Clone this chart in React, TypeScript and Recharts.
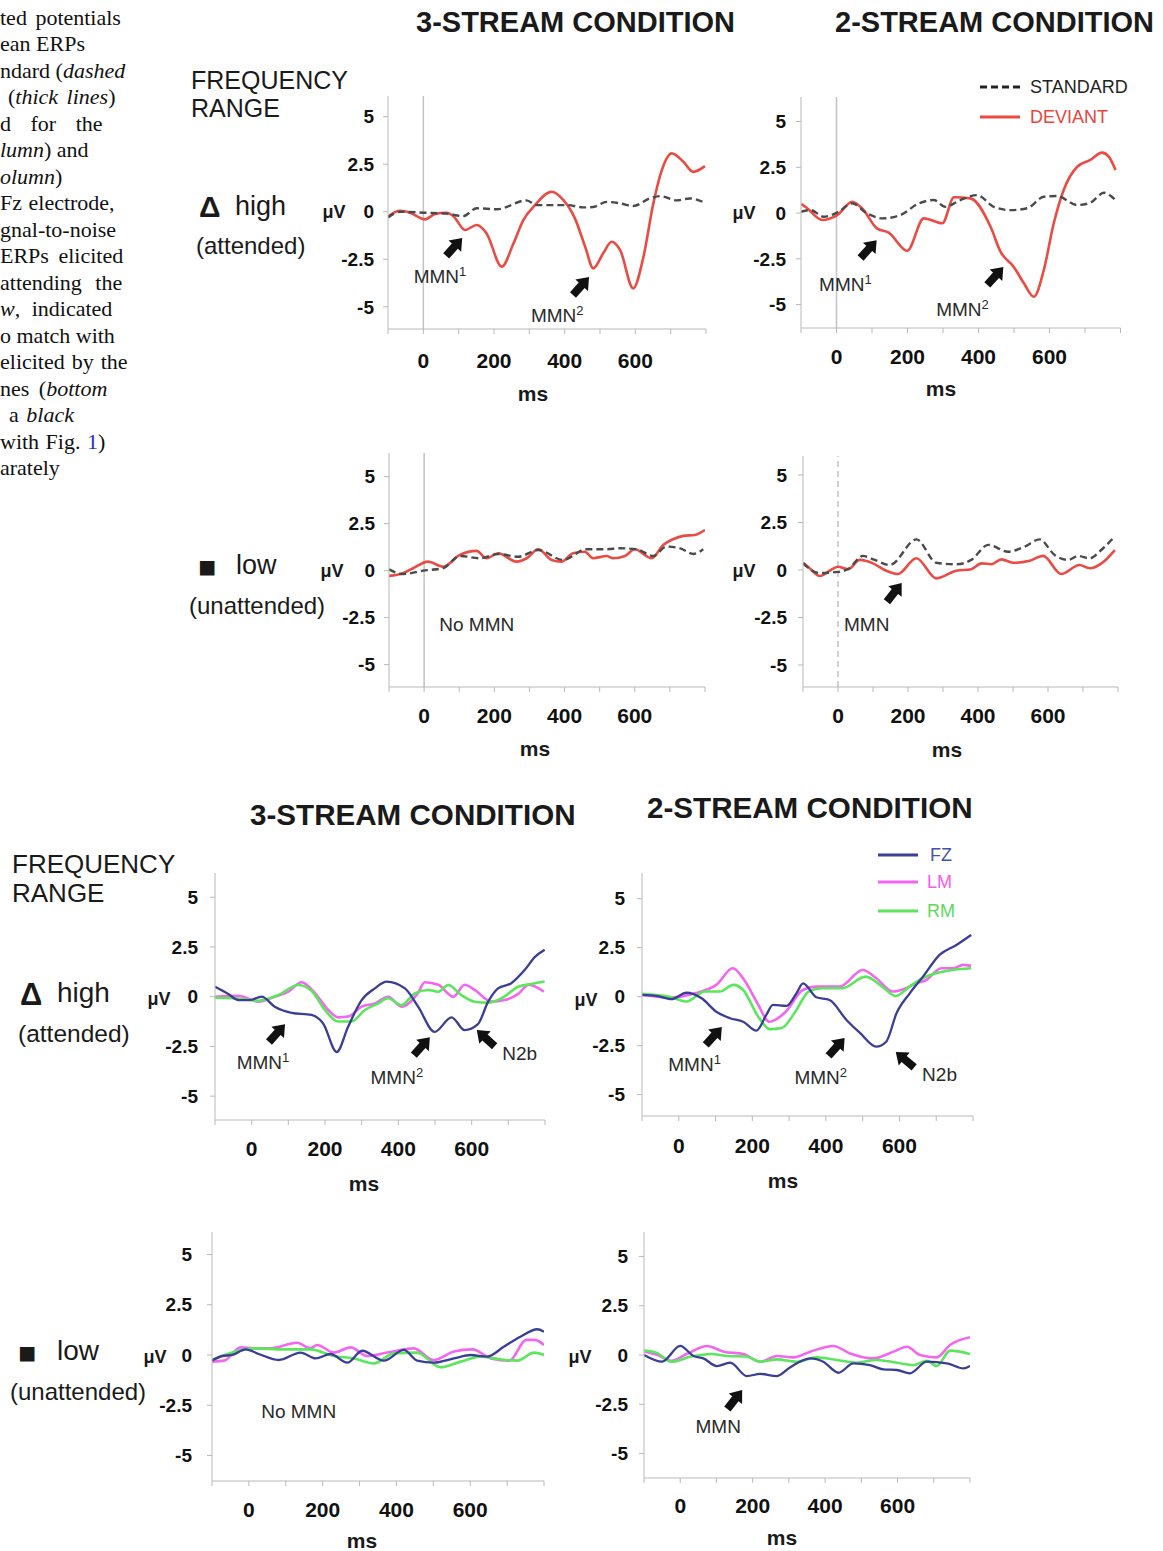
import React from 'react';
import { LineChart, Line, XAxis, YAxis, ReferenceLine, ReferenceDot } from 'recharts';

type Pt = [number, number];

// ---------- axes ----------
const TIME_TICKS = [-100, 0, 100, 200, 300, 400, 500, 600, 700, 800];
const TIME_LABELS = [0, 200, 400, 600];
const UV_TICKS = [-5, -2.5, 0, 2.5, 5];

// ---------- top figure: standard vs deviant (Fz) ----------
const high3Deviant: Pt[] = [[-100,-0.25],[-66,0.05],[-38,-0.05],[5,-0.4],[33,-0.12],[66,-0.05],[85,-0.23],[118,-0.96],[151,-0.7],[179,-1.14],[222,-2.89],[255,-1.67],[283,-0.44],[316,0.35],[363,1.05],[396,0.62],[429,-0.35],[458,-1.84],[481,-2.98],[509,-2.19],[533,-1.58],[557,-2.02],[594,-4.03],[623,-2.37],[651,0.44],[675,2.19],[703,3.07],[736,2.63],[764,2.1],[797,2.4]];
const high3Standard: Pt[] = [[-100,-0.3],[-66,0.0],[0,-0.05],[66,-0.1],[113,-0.23],[151,0.18],[208,0.13],[292,0.6],[321,0.35],[368,0.35],[406,0.35],[453,0.23],[481,0.25],[519,0.52],[557,0.44],[594,0.3],[641,0.7],[670,0.82],[717,0.6],[754,0.7],[797,0.47]];
const high2Deviant: Pt[] = [[-100,0.5],[-85,0.3],[-40,-0.38],[2,-0.11],[44,0.62],[72,0.26],[114,-0.84],[147,-1.07],[199,-2.06],[246,-0.29],[298,-0.56],[331,0.86],[377,0.8],[434,-0.75],[462,-2.11],[499,-2.93],[528,-3.84],[556,-4.57],[584,-3.11],[612,-0.56],[640,1.26],[678,2.53],[715,2.9],[748,3.3],[767,3.08],[786,2.35]];
const high2Standard: Pt[] = [[-100,0.07],[-73,0.16],[-36,-0.2],[6,0.07],[44,0.53],[86,-0.02],[129,-0.29],[180,-0.11],[232,0.53],[274,0.71],[307,0.34],[349,0.71],[396,0.98],[443,0.34],[490,0.16],[537,0.26],[584,0.89],[621,0.93],[678,0.44],[715,0.56],[753,1.11],[786,0.71]];
const low3Deviant: Pt[] = [[-100,-0.28],[-60,-0.14],[-31,0.13],[11,0.48],[54,0.21],[102,0.84],[149,1.05],[178,0.66],[211,0.93],[263,0.48],[292,0.66],[325,1.14],[363,0.57],[391,0.48],[424,0.93],[458,1.01],[481,0.66],[520,0.78],[538,0.66],[572,0.78],[600,1.14],[648,0.66],[681,1.37],[709,1.67],[738,1.85],[771,1.9],[800,2.16]];
const low3Standard: Pt[] = [[-100,0.07],[-60,-0.18],[-3,0.0],[54,0.13],[102,0.78],[160,0.66],[211,0.89],[268,0.74],[325,1.1],[396,0.57],[462,1.14],[520,1.14],[558,1.19],[605,1.14],[653,0.78],[690,1.28],[729,1.19],[767,0.89],[795,1.14]];
const low2Deviant: Pt[] = [[-100,0.38],[-81,0.09],[-52,-0.32],[-24,-0.04],[0,0.17],[29,0.04],[62,0.53],[100,0.35],[138,-0.04],[171,-0.21],[224,0.62],[281,-0.44],[338,-0.04],[381,0.04],[410,0.35],[438,0.3],[467,0.56],[500,0.38],[548,0.49],[586,0.74],[638,-0.21],[690,0.26],[719,0.09],[753,0.35],[791,1.05]];
const low2Standard: Pt[] = [[-100,0.35],[-52,-0.16],[0,-0.1],[29,0.05],[71,0.74],[105,0.53],[148,0.26],[224,1.61],[281,0.38],[338,0.3],[381,0.53],[429,1.32],[486,0.96],[533,1.23],[576,1.61],[619,0.79],[657,0.53],[686,0.74],[719,0.61],[752,1.05],[786,1.67]];

// ---------- bottom figure: electrodes Fz / LM / RM ----------
const high3Fz: Pt[] = [[-100,0.5],[-64,0.14],[-36,-0.17],[-5,-0.17],[27,0],[63,-0.5],[109,-0.81],[163,-0.92],[195,-1.35],[232,-2.78],[263,-1.51],[300,-0.17],[336,0.42],[368,0.76],[418,0.42],[454,-0.5],[499,-1.77],[545,-1.04],[581,-1.68],[617,-1.38],[645,-0.25],[672,0.42],[708,0.68],[745,1.35],[772,1.99],[799,2.36]];
const high3Lm: Pt[] = [[-100,0.0],[-36,0.05],[18,-0.25],[63,0],[100,0.25],[136,0.73],[173,0.17],[209,-0.67],[236,-1.04],[263,-1.0],[300,-0.5],[336,-0.34],[372,0.0],[409,-0.5],[454,0.2],[472,0.73],[509,0.6],[550,0.0],[581,0.6],[608,0.34],[654,-0.25],[690,-0.17],[727,0.14],[756,0.6],[797,0.25]];
const high3Rm: Pt[] = [[-100,-0.05],[-36,-0.09],[18,-0.2],[72,0.08],[127,0.59],[163,0.3],[200,-0.67],[236,-1.25],[272,-1.25],[309,-0.67],[345,-0.34],[372,-0.08],[409,-0.42],[445,0.17],[481,0.34],[509,0.25],[536,0.59],[572,0.08],[608,-0.25],[645,-0.3],[681,-0.08],[727,0.5],[763,0.64],[799,0.76]];
const high2Fz: Pt[] = [[-100,0.09],[-61,0.04],[-20,-0.13],[21,0.2],[62,-0.08],[102,-0.77],[139,-1.1],[175,-1.28],[211,-1.73],[238,-0.93],[256,-0.42],[293,-0.47],[320,0.17],[338,0.68],[374,-0.03],[410,-0.17],[456,-1.19],[492,-1.84],[537,-2.55],[564,-2.3],[592,-0.85],[628,0.17],[664,1.02],[709,2.13],[755,2.64],[795,3.15]];
const high2Lm: Pt[] = [[-100,0.09],[-20,-0.04],[44,0.17],[102,0.6],[147,1.45],[178,0.85],[214,-0.34],[246,-1.28],[291,-0.77],[337,0.34],[374,0.51],[437,0.51],[500,1.36],[537,0.94],[582,0.26],[618,0.43],[645,0.68],[673,0.85],[714,1.45],[746,1.45],[773,1.62],[795,1.57]];
const high2Rm: Pt[] = [[-100,0.14],[-20,-0.03],[21,-0.25],[71,0.26],[112,0.26],[148,0.6],[175,0.34],[216,-1.02],[248,-1.66],[280,-1.6],[317,-0.77],[353,0.26],[389,0.43],[444,0.43],[508,1.02],[553,0.51],[590,0.03],[627,0.51],[663,0.94],[699,1.19],[744,1.36],[795,1.45]];
const low3Fz: Pt[] = [[-100,-0.28],[-72,-0.05],[-45,0],[-9,0.28],[27,0.05],[81,-0.25],[140,0.12],[181,-0.17],[221,0.05],[267,-0.38],[307,0.21],[366,-0.28],[420,0.25],[456,-0.28],[501,-0.38],[556,-0.17],[601,0],[646,-0.08],[691,0.41],[736,0.91],[782,1.28],[800,1.16]];
const low3Lm: Pt[] = [[-100,-0.33],[-67,-0.28],[-22,0.38],[14,0.33],[59,0.33],[131,0.61],[167,0.33],[185,0.5],[230,0.12],[276,0.38],[321,-0.05],[375,0.12],[447,0.33],[501,-0.25],[556,0.17],[606,0.28],[656,-0.17],[706,-0.28],[752,0.75],[775,0.75],[800,0.5]];
const low3Rm: Pt[] = [[-100,-0.25],[-36,0.17],[14,0.33],[95,0.28],[167,0.28],[230,-0.05],[284,-0.17],[339,-0.42],[393,0.08],[456,0.12],[519,-0.61],[574,-0.33],[628,-0.08],[682,-0.22],[728,-0.28],[773,0.12],[800,0]];
const low2Fz: Pt[] = [[-100,0],[-50,-0.34],[0,0.46],[37,-0.05],[64,-0.17],[101,-0.56],[138,-0.39],[184,-1.07],[221,-0.96],[267,-1.07],[303,-0.63],[359,-0.17],[395,-0.34],[437,-0.9],[478,-0.42],[524,-0.51],[561,-0.73],[598,-0.76],[634,-0.93],[681,-0.34],[736,-0.42],[782,-0.68],[800,-0.56]];
const low2Lm: Pt[] = [[-100,0.17],[-62,0],[-25,-0.29],[18,0.05],[74,0.46],[120,0.17],[175,0.05],[221,-0.34],[267,-0.05],[313,-0.12],[359,0.17],[423,0.46],[469,0.08],[533,-0.17],[589,0.17],[626,0.42],[662,0],[708,-0.12],[745,0.51],[800,0.9]];
const low2Rm: Pt[] = [[-100,0.22],[-66,0.12],[-25,-0.34],[30,-0.08],[85,0.05],[131,-0.05],[182,-0.08],[221,-0.34],[267,-0.22],[322,-0.34],[377,-0.12],[432,-0.25],[487,-0.39],[542,-0.25],[598,-0.39],[644,-0.51],[681,-0.29],[708,-0.56],[745,0.22],[800,0.05]];

// ---------- text ----------
type Seg = { t: string; i?: boolean; c?: string };
const CAPTION: { x: number; ws: number; segs: Seg[] }[] = [
  { x: 0, ws: 3, segs: [{ t: 'ted potentials' }] },
  { x: 0, ws: 0, segs: [{ t: 'ean ERPs' }] },
  { x: 0, ws: 0, segs: [{ t: 'ndard (' }, { t: 'dashed', i: true }] },
  { x: 8, ws: 3, segs: [{ t: '(' }, { t: 'thick lines', i: true }, { t: ')' }] },
  { x: 0, ws: 14, segs: [{ t: 'd for the' }] },
  { x: 0, ws: 0, segs: [{ t: 'lumn', i: true }, { t: ') and' }] },
  { x: 0, ws: 0, segs: [{ t: 'olumn', i: true }, { t: ')' }] },
  { x: 0, ws: 1, segs: [{ t: 'Fz electrode,' }] },
  { x: 0, ws: 0, segs: [{ t: 'gnal-to-noise' }] },
  { x: 0, ws: 4, segs: [{ t: 'ERPs elicited' }] },
  { x: 0, ws: 8, segs: [{ t: 'attending the' }] },
  { x: 0, ws: 6, segs: [{ t: 'w', i: true }, { t: ', indicated' }] },
  { x: 0, ws: 0, segs: [{ t: 'o match with' }] },
  { x: 0, ws: 1.5, segs: [{ t: 'elicited by the' }] },
  { x: 0, ws: 4, segs: [{ t: 'nes (' }, { t: 'bottom', i: true }] },
  { x: 9, ws: 2, segs: [{ t: 'a ' }, { t: 'black', i: true }] },
  { x: 0, ws: 1, segs: [{ t: 'with Fig. ' }, { t: '1', c: '#2233cc' }, { t: ')' }] },
  { x: 0, ws: 0, segs: [{ t: 'arately' }] },
];

type Lbl = { s: string; x: number; y: number; size: number; bold?: boolean; color?: string; center?: boolean };
const LABELS: Lbl[] = [
  { s: '3-STREAM CONDITION', x: 416, y: 22, size: 29, bold: true },
  { s: '2-STREAM CONDITION', x: 835, y: 22, size: 29, bold: true },
  { s: 'FREQUENCY', x: 191, y: 80, size: 25 },
  { s: 'RANGE', x: 191, y: 108, size: 25 },
  { s: 'Δ', x: 199, y: 207, size: 30, bold: true },
  { s: 'high', x: 235, y: 206, size: 27 },
  { s: '(attended)', x: 196, y: 246, size: 24 },
  { s: '■', x: 198, y: 567, size: 30 },
  { s: 'low', x: 236, y: 565, size: 27 },
  { s: '(unattended)', x: 189, y: 606, size: 24 },
  { s: '3-STREAM CONDITION', x: 250, y: 815, size: 29.6, bold: true },
  { s: '2-STREAM CONDITION', x: 647, y: 808, size: 29.6, bold: true },
  { s: 'FREQUENCY', x: 12, y: 864, size: 26 },
  { s: 'RANGE', x: 12, y: 893, size: 26 },
  { s: 'Δ', x: 20, y: 994, size: 31, bold: true },
  { s: 'high', x: 57, y: 993, size: 28 },
  { s: '(attended)', x: 18, y: 1034, size: 24.5 },
  { s: '■', x: 18, y: 1353, size: 30 },
  { s: 'low', x: 57, y: 1351, size: 28 },
  { s: '(unattended)', x: 10, y: 1392, size: 24 },
  // μV unit labels
  { s: 'μV', x: 334, y: 212, size: 18, bold: true, center: true },
  { s: 'μV', x: 744, y: 213, size: 18, bold: true, center: true },
  { s: 'μV', x: 332, y: 571, size: 18, bold: true, center: true },
  { s: 'μV', x: 744, y: 571, size: 18, bold: true, center: true },
  { s: 'μV', x: 159, y: 999, size: 18, bold: true, center: true },
  { s: 'μV', x: 586, y: 1000, size: 18, bold: true, center: true },
  { s: 'μV', x: 155, y: 1357, size: 18, bold: true, center: true },
  { s: 'μV', x: 580, y: 1357, size: 18, bold: true, center: true },
  // ms axis titles
  { s: 'ms', x: 533, y: 393, size: 21, bold: true, center: true },
  { s: 'ms', x: 941, y: 388, size: 21, bold: true, center: true },
  { s: 'ms', x: 535, y: 748, size: 21, bold: true, center: true },
  { s: 'ms', x: 947, y: 749, size: 21, bold: true, center: true },
  { s: 'ms', x: 364, y: 1183, size: 21, bold: true, center: true },
  { s: 'ms', x: 783, y: 1180, size: 21, bold: true, center: true },
  { s: 'ms', x: 362, y: 1540, size: 21, bold: true, center: true },
  { s: 'ms', x: 782, y: 1537, size: 21, bold: true, center: true },
  // legends
  { s: 'STANDARD', x: 1030, y: 87, size: 18, color: '#222' },
  { s: 'DEVIANT', x: 1030, y: 117, size: 18, color: '#E8453C' },
  { s: 'FZ', x: 930, y: 855, size: 18, color: '#4451A6' },
  { s: 'LM', x: 927, y: 882, size: 18, color: '#EE5FEA' },
  { s: 'RM', x: 927, y: 911, size: 18, color: '#5ED95E' },
];

const SANS = '"Liberation Sans", Arial, sans-serif';
const SERIF = '"Liberation Serif", "Times New Roman", serif';
const AXIS = '#b9b9b9';
const COL = { dev: '#EA4B42', std: '#4a4a4a', fz: '#3B3E96', lm: '#F266F0', rm: '#5BE65B' };

type Series = { pts: Pt[]; color: string; width: number; dash?: string };
type Ann = { t: number; v: number; arrow?: number; text?: string; sup?: string };
type Cfg = {
  left: number; right: number; top: number; bottom: number; yMin: number; yMax: number;
  xGap: number; yGap: number; zero?: 'solid' | 'dash'; series: Series[]; anns: Ann[];
};

const pair = (dev: Pt[], std: Pt[]): Series[] => [
  { pts: dev, color: COL.dev, width: 2.6 },
  { pts: std, color: COL.std, width: 2.4, dash: '7 4' },
];
const trio = (fz: Pt[], lm: Pt[], rm: Pt[]): Series[] => [
  { pts: lm, color: COL.lm, width: 2.6 },
  { pts: rm, color: COL.rm, width: 2.6 },
  { pts: fz, color: COL.fz, width: 2.3 },
];

const PANELS: Cfg[] = [
  { left: 388, right: 706, top: 96, bottom: 329, yMin: -6.17, yMax: 6.09, xGap: 19.5, yGap: 9, zero: 'solid',
    series: pair(high3Deviant, high3Standard),
    anns: [{ t: 110, v: -1.38, arrow: -48 }, { t: 47, v: -3.4, text: 'MMN', sup: '1' }, { t: 469, v: -3.44, arrow: -48 }, { t: 379, v: -5.44, text: 'MMN', sup: '2' }] },
  { left: 800.5, right: 1120, top: 97, bottom: 328, yMin: -6.28, yMax: 6.34, xGap: 16.5, yGap: 10, zero: 'solid',
    series: pair(high2Deviant, high2Standard),
    anns: [{ t: 113, v: -1.48, arrow: -48 }, { t: 25, v: -3.88, text: 'MMN', sup: '1' }, { t: 470, v: -2.95, arrow: -48 }, { t: 355, v: -5.25, text: 'MMN', sup: '2' }] },
  { left: 389, right: 705, top: 453, bottom: 687, yMin: -6.19, yMax: 6.26, xGap: 16.5, yGap: 9, zero: 'solid',
    series: pair(low3Deviant, low3Standard),
    anns: [{ t: 150, v: -2.84, text: 'No MMN' }] },
  { left: 803, right: 1118, top: 456, bottom: 687, yMin: -6.16, yMax: 6.0, xGap: 16.5, yGap: 11, zero: 'dash',
    series: pair(low2Deviant, low2Standard),
    anns: [{ t: 182, v: -0.68, arrow: -52 }, { t: 82, v: -2.84, text: 'MMN' }] },
  { left: 215, right: 545, top: 873, bottom: 1120, yMin: -6.2, yMax: 6.22, xGap: 16.5, yGap: 12,
    series: trio(high3Fz, high3Lm, high3Rm),
    anns: [{ t: 91, v: -1.38, arrow: -48 }, { t: 31, v: -3.3, text: 'MMN', sup: '1' }, { t: 486, v: -2.04, arrow: -48 }, { t: 396, v: -4.06, text: 'MMN', sup: '2' }, { t: 614, v: -1.68, arrow: -138 }, { t: 731, v: -2.85, text: 'N2b' }] },
  { left: 642, right: 973, top: 873, bottom: 1116, yMin: -6.09, yMax: 6.31, xGap: 17.5, yGap: 12,
    series: trio(high2Fz, high2Lm, high2Rm),
    anns: [{ t: 117, v: -1.55, arrow: -48 }, { t: 43, v: -3.43, text: 'MMN', sup: '1' }, { t: 451, v: -2.11, arrow: -48 }, { t: 386, v: -4.1, text: 'MMN', sup: '2' }, { t: 590, v: -2.82, arrow: -140 }, { t: 709, v: -3.93, text: 'N2b' }] },
  { left: 211.5, right: 543.5, top: 1232, bottom: 1481, yMin: -6.27, yMax: 6.12, xGap: 15.8, yGap: 15,
    series: trio(low3Fz, low3Lm, low3Rm),
    anns: [{ t: 135, v: -2.79, text: 'No MMN' }] },
  { left: 644, right: 970, top: 1232, bottom: 1478, yMin: -6.24, yMax: 6.24, xGap: 15.5, yGap: 11,
    series: trio(low2Fz, low2Lm, low2Rm),
    anns: [{ t: 171, v: -1.78, arrow: -52 }, { t: 105, v: -3.6, text: 'MMN' }] },
];

const YW = 70, XH = 60, MT = 10, MR = 10;

function ArrowMark({ cx, cy, angle }: { cx: number; cy: number; angle: number }) {
  return (
    <g transform={`translate(${cx},${cy}) rotate(${angle})`}>
      <polygon points="0,0 -11,-8.5 -11,-4 -24,-4 -24,4 -11,4 -11,8.5" fill="#111" />
    </g>
  );
}

function Panel({ cfg }: { cfg: Cfg }) {
  const W = cfg.right - cfg.left + YW + MR;
  const H = cfg.bottom - cfg.top + MT + XH;
  return (
    <div style={{ position: 'absolute', left: cfg.left - YW, top: cfg.top - MT, width: W, height: H }}>
      <LineChart width={W} height={H} margin={{ top: MT, right: MR, bottom: 0, left: 0 }}>
        <XAxis dataKey="t" type="number" domain={[-100, 800]} ticks={TIME_TICKS} interval={0} allowDataOverflow
          height={XH} stroke={AXIS} tickSize={5} tickMargin={cfg.xGap}
          tickFormatter={(v: number) => (TIME_LABELS.includes(v) ? String(v) : '')}
          tick={{ fill: '#111', fontSize: 21, fontWeight: 700, fontFamily: SANS }} />
        <YAxis type="number" domain={[cfg.yMin, cfg.yMax]} ticks={UV_TICKS} interval={0} allowDataOverflow
          width={YW} stroke={AXIS} tickSize={5} tickMargin={cfg.yGap}
          tick={{ fill: '#111', fontSize: 19, fontWeight: 700, fontFamily: SANS }} />
        {cfg.zero && (
          <ReferenceLine x={0} stroke="#c2c2c8" strokeWidth={1.5}
            strokeDasharray={cfg.zero === 'dash' ? '6 4' : undefined} />
        )}
        {cfg.series.map((s, i) => (
          <Line key={i} data={s.pts.map(([t, v]) => ({ t, v }))} dataKey="v" type="monotone"
            stroke={s.color} strokeWidth={s.width} strokeDasharray={s.dash}
            dot={false} activeDot={false} isAnimationActive={false} />
        ))}
        {cfg.anns.map((a, i) => (
          <ReferenceDot key={`a${i}`} x={a.t} y={a.v} r={0}
            shape={(p: any) =>
              a.text ? (
                <text x={p.cx} y={p.cy} dy="0.36em" textAnchor="middle" fontSize={19}
                  fontFamily={SANS} fill="#2a2a2a">
                  {a.text}
                  {a.sup && <tspan fontSize={13} dy="-0.55em">{a.sup}</tspan>}
                </text>
              ) : (
                <ArrowMark cx={p.cx} cy={p.cy} angle={a.arrow ?? -45} />
              )
            } />
        ))}
      </LineChart>
    </div>
  );
}

export default function App() {
  return (
    <div style={{ position: 'absolute', left: 0, top: 0, width: 1163, height: 1551, overflow: 'hidden', background: '#fff' }}>
      {CAPTION.map((ln, i) => (
        <div key={`c${i}`} style={{
          position: 'absolute', left: ln.x, top: 20 + i * 26.5 - 13.4, whiteSpace: 'nowrap',
          fontFamily: SERIF, fontSize: 22, lineHeight: 1, color: '#111', wordSpacing: ln.ws,
        }}>
          {ln.segs.map((s, j) => (
            <span key={j} style={{ fontStyle: s.i ? 'italic' : 'normal', color: s.c }}>{s.t}</span>
          ))}
        </div>
      ))}
      {PANELS.map((p, i) => <Panel key={i} cfg={p} />)}
      {LABELS.map((l, i) => (
        <div key={`l${i}`} style={{
          position: 'absolute', left: l.x, top: l.y, whiteSpace: 'nowrap',
          transform: l.center ? 'translate(-50%,-50%)' : 'translateY(-50%)',
          fontFamily: SANS, fontSize: l.size, fontWeight: l.bold ? 700 : 400, lineHeight: 1,
          color: l.color ?? '#1a1a1a',
        }}>{l.s}</div>
      ))}
      <svg width={1163} height={1551} style={{ position: 'absolute', left: 0, top: 0, pointerEvents: 'none' }}>
        <line x1={980} x2={1022} y1={87} y2={87} stroke="#222" strokeWidth={3} strokeDasharray="7 4" />
        <line x1={980} x2={1020} y1={117} y2={117} stroke={COL.dev} strokeWidth={3} />
        <line x1={878} x2={918} y1={855} y2={855} stroke={COL.fz} strokeWidth={3} />
        <line x1={878} x2={918} y1={882} y2={882} stroke={COL.lm} strokeWidth={3} />
        <line x1={878} x2={918} y1={911} y2={911} stroke={COL.rm} strokeWidth={3} />
      </svg>
    </div>
  );
}
